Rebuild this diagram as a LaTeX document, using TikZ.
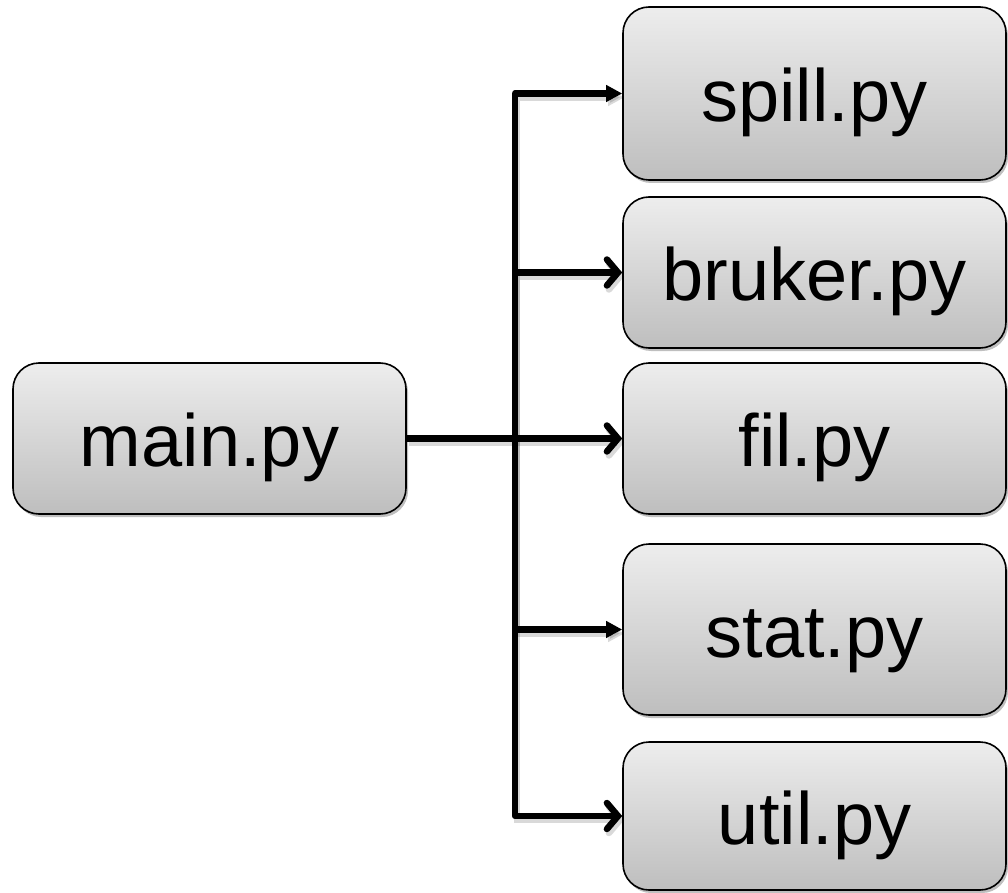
\documentclass[tikz,border=0pt]{standalone}
\usepackage{fontspec}
\setmainfont{Liberation Sans}
\usetikzlibrary{arrows.meta,shadows}
\definecolor{boxtop}{RGB}{237,237,237}
\definecolor{boxbot}{RGB}{190,190,190}
\tikzset{
  filebox/.style={draw=black, line width=1.6pt, rounded corners=26pt,
    top color=boxtop, bottom color=boxbot, inner sep=0pt,
    text height=56pt, text depth=0pt,
    drop shadow={shadow xshift=2pt, shadow yshift=-3pt, opacity=0.25, fill=black},
    font=\fontsize{74}{80}\selectfont},
  conn/.style={line width=6.5pt, line join=round, draw=black,
    preaction={draw=black, opacity=0.15, line width=6.5pt, transform canvas={shift={(2pt,-4pt)}}}},
  filltip/.style={conn, -{Triangle[length=16pt,width=16pt]}},
  opentip/.style={conn, -{Straight Barb[length=11pt,width=26pt,line cap=round]}},
}
\begin{document}
\begin{tikzpicture}[x=1pt,y=-1pt]
\useasboundingbox (0,0) rectangle (1008,893);
\node[filebox, minimum width=393pt, minimum height=151pt] (main) at (209.5,438.5) {main.py};
\node[filebox, minimum width=383pt, minimum height=173pt] (spill) at (814.5,93.5) {spill.py};
\node[filebox, minimum width=383pt, minimum height=151pt] (bruker) at (814.5,272.5) {bruker.py};
\node[filebox, minimum width=383pt, minimum height=151pt] (fil) at (814.5,438.5) {fil.py};
\node[filebox, minimum width=383pt, minimum height=171pt] (stat) at (814.5,629.5) {stat.py};
\node[filebox, minimum width=383pt, minimum height=148pt] (util) at (814.5,816) {util.py};
\coordinate (bus) at (515,438.5);
\draw[conn] (main.east) -- (bus);
\draw[opentip] (bus) -- (fil.west);
\draw[filltip] (bus) |- (spill.west);
\draw[opentip] (bus) |- (bruker.west);
\draw[filltip] (bus) |- (stat.west);
\draw[opentip] (bus) |- (util.west);
\end{tikzpicture}
\end{document}
